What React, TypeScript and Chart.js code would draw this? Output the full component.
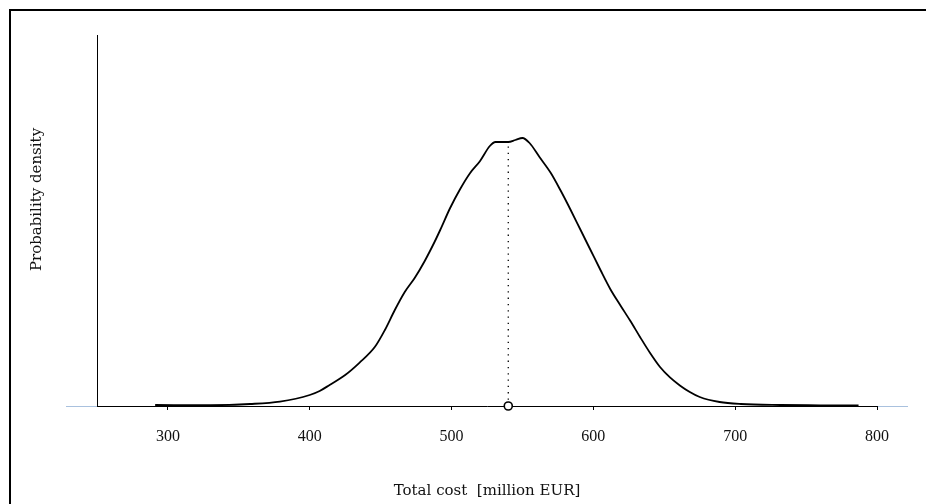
import React, { useEffect, useRef } from 'react';
import { Chart, registerables } from 'chart.js';

Chart.register(...registerables);

// Total cost [million EUR]
const costValues = [291, 330, 358, 379, 400, 407, 414, 425, 435, 446, 453, 460, 467, 474, 481, 488, 492, 499, 506, 513, 520, 527, 531, 540, 545, 550, 555, 562, 570, 577, 584, 591, 598, 605, 612, 619, 626, 633, 640, 647, 654, 661, 668, 675, 689, 704, 732, 760, 787];
// Probability density (x 10^-3)
const densityValues = [0.025, 0.02, 0.05, 0.11, 0.275, 0.375, 0.525, 0.775, 1.08, 1.48, 1.9, 2.4, 2.85, 3.2, 3.62, 4.1, 4.4, 4.95, 5.42, 5.82, 6.12, 6.5, 6.6, 6.6, 6.65, 6.7, 6.575, 6.225, 5.825, 5.38, 4.9, 4.4, 3.9, 3.4, 2.92, 2.52, 2.13, 1.72, 1.325, 0.975, 0.715, 0.515, 0.35, 0.225, 0.1, 0.05, 0.025, 0.018, 0.012];
const xTickValues = [300, 400, 500, 600, 700, 800];
const medianCost = 540;
const medianDensity = 6.6;
const xMin = 250;
const xMax = 800;
const yMin = 0;
const yMax = 9.275;
const xTitle = 'Total cost  [million EUR]';
const yTitle = 'Probability density';

const FONT = '"Liberation Serif", "Times New Roman", serif';
const TITLE_FONT = '"DejaVu Serif", serif';

const decorPlugin = {
  id: 'decor',
  beforeDraw(chart: any) {
    const { ctx, chartArea } = chart;
    ctx.save();
    ctx.strokeStyle = '#a9c1de';
    ctx.lineWidth = 1;
    ctx.beginPath();
    ctx.moveTo(chartArea.left - 31, chartArea.bottom + 0.5);
    ctx.lineTo(chartArea.right + 31, chartArea.bottom + 0.5);
    ctx.stroke();
    ctx.restore();
  },
  afterDraw(chart: any) {
    const { ctx, chartArea } = chart;
    ctx.save();
    ctx.fillStyle = '#111';
    ctx.font = '15px ' + TITLE_FONT;
    ctx.textAlign = 'center';
    ctx.textBaseline = 'middle';
    ctx.fillText(xTitle, (chartArea.left + chartArea.right) / 2, chartArea.bottom + 85);
    ctx.translate(chartArea.left - 60, (chartArea.top + chartArea.bottom) / 2 - 21);
    ctx.rotate(-Math.PI / 2);
    ctx.fillText(yTitle, 0, 0);
    ctx.restore();
  },
};

export default function App() {
  const canvasRef = useRef<HTMLCanvasElement | null>(null);

  useEffect(() => {
    const canvas = canvasRef.current;
    if (!canvas) return;
    const curve = costValues.map((c, i) => ({ x: c, y: densityValues[i] }));
    const chart = new Chart(canvas, {
      type: 'scatter',
      data: {
        datasets: [
          {
            data: curve,
            showLine: true,
            borderColor: '#000',
            borderWidth: 1.8,
            pointRadius: 0,
            cubicInterpolationMode: 'monotone',
            fill: false,
          } as any,
          {
            data: [
              { x: medianCost, y: 0 },
              { x: medianCost, y: medianDensity },
            ],
            showLine: true,
            borderColor: '#000',
            borderWidth: 1.3,
            borderDash: [1.3, 5],
            pointRadius: [4, 0],
            pointBorderWidth: 1.6,
            pointBorderColor: '#000',
            pointBackgroundColor: '#fff',
            clip: false,
          } as any,
        ],
      },
      options: {
        responsive: false,
        animation: false,
        events: [],
        layout: { padding: { left: 0, top: 35, right: 49, bottom: 0 } },
        plugins: {
          legend: { display: false },
          tooltip: { enabled: false },
          title: { display: false },
        },
        scales: {
          x: {
            type: 'linear',
            min: xMin,
            max: xMax,
            afterBuildTicks: (scale: any) => {
              scale.ticks = xTickValues.map((v) => ({ value: v }));
            },
            afterFit: (scale: any) => {
              scale.height = 98;
            },
            grid: {
              display: true,
              drawOnChartArea: false,
              drawTicks: true,
              tickLength: 4,
              color: '#000',
              lineWidth: 1,
            },
            border: { display: true, color: '#000', width: 1 },
            ticks: {
              color: '#111',
              font: { family: FONT, size: 16 },
              padding: 17,
              maxRotation: 0,
              autoSkip: false,
              callback: (v: any) => String(v),
            },
          },
          y: {
            type: 'linear',
            min: yMin,
            max: yMax,
            afterFit: (scale: any) => {
              scale.width = 97;
            },
            grid: { display: false },
            border: { display: true, color: '#000', width: 1 },
            ticks: { display: false },
          },
        },
      },
      plugins: [decorPlugin],
    });
    return () => chart.destroy();
  }, []);

  return (
    <div style={{ position: 'fixed', left: 0, top: 0, width: 926, height: 504, overflow: 'hidden', background: '#fff' }}>
      <div
        style={{
          position: 'absolute',
          left: 9,
          top: 9,
          width: 1000,
          height: 600,
          borderLeft: '2px solid #000',
          borderTop: '2px solid #000',
        }}
      />
      <canvas ref={canvasRef} width={926} height={504} style={{ position: 'absolute', left: 0, top: 0, display: 'block' }} />
    </div>
  );
}
